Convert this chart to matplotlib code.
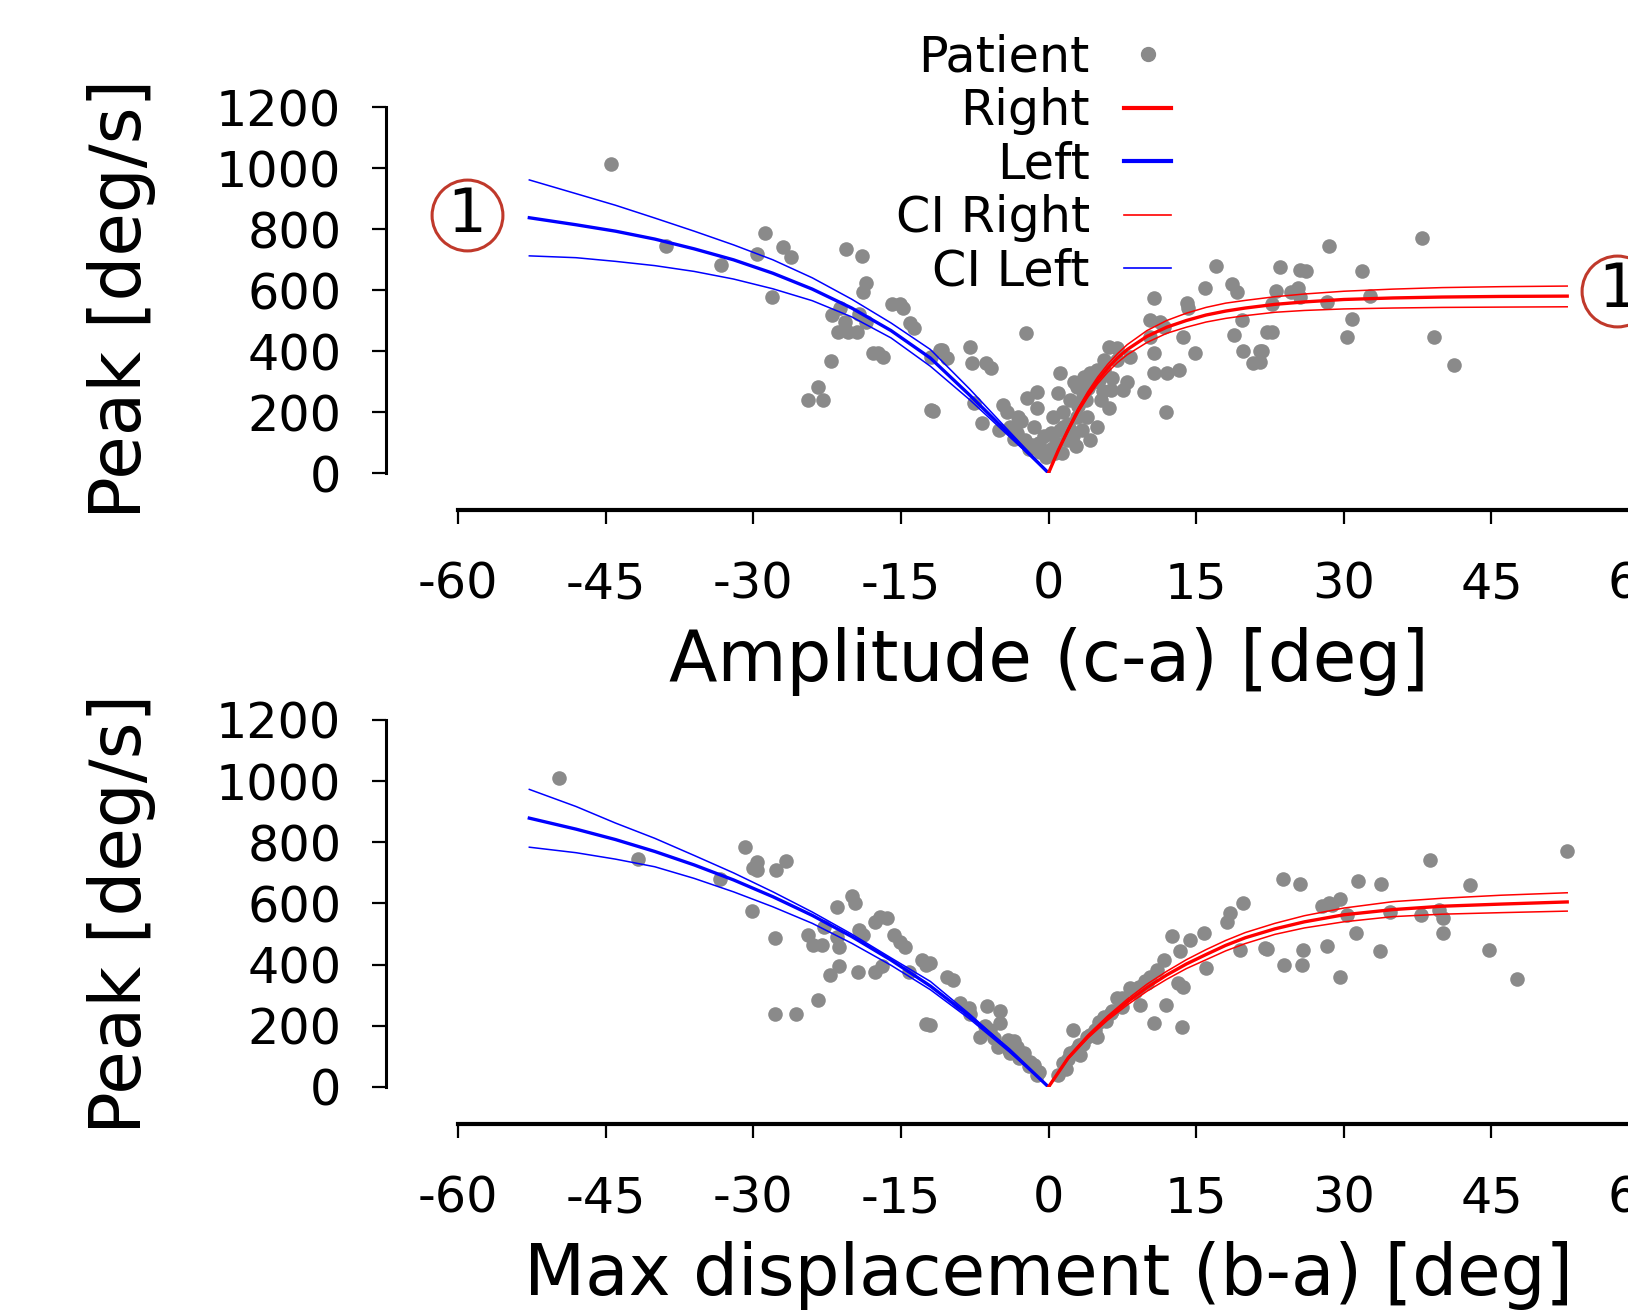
import matplotlib.pyplot as plt
from matplotlib.lines import Line2D

plt.rcParams['font.family'] = 'DejaVu Sans'
plt.rcParams['axes.unicode_minus'] = False

# ---------------- top panel: amplitude (c-a) ----------------
amp_x = [-44.5, -38.9, -33.3, -28.8, -29.6, -28.1, -27.0, -26.2, -20.6, -18.9,
         -18.5, -18.8, -15.9, -15.1, -14.8, -14.1, -13.7, -22.0, -21.2, -21.4,
         -20.4, -19.5, -19.3, -18.5, -20.7, -17.8, -16.8, -17.3, -22.1, -23.4,
         -24.4, -22.9, -11.9, -11.9, -11.0,
         -10.8, -10.3, -8.0, -7.8, -6.4, -5.8, -11.7, -7.6, -6.8, -4.6,
         -3.9, -3.1, -2.2, -1.2, -1.2, -2.3, -3.2, -2.4, -1.7, -0.9,
         -0.3, 0.5, 0.3, 1.2, 1.0, 1.5, 1.9, 1.4, 0.7, 2.2,
         2.9, 2.9, 3.4, 3.9, 4.2, 3.6, 4.2, 4.9, 5.6, 5.1,
         5.6, 6.1, 7.0, 6.3, 7.6, 6.1, 9.7, 10.7, 12.0, 13.3,
         11.9, 10.7, 10.3, 11.7, 10.7, 10.3, 11.3, 13.7, 14.9, 14.1,
         14.2, 15.9, 17.0, 18.6, 19.1, 18.8, 19.8, 20.8, 21.5, 19.7,
         22.2, 8.0, 2.2, 4.9, 5.3, 8.3, 7.0,
         0.8, 1.5, 2.0, 2.5, 3.0, 3.5, 4.0, 4.5, 2.6, 5.5,
         6.5, 3.8, 1.2, 2.8, 0.3, -0.5, -1.5, -2.8, -4.2, -5.0,
         -3.5, -1.0, -2.0,
         23.5, 25.5, 26.2, 28.5, 31.8, 37.9, 23.1, 24.6, 25.3, 25.6,
         22.7, 28.3, 32.7, 22.7, 21.7, 30.8, 30.3, 39.2, 41.2, 21.5]
amp_y = [1012, 744, 681, 786, 717, 578, 740, 709, 733, 711,
         624, 594, 553, 553, 540, 493, 474, 518, 540, 463,
         463, 463, 523, 496, 496, 392, 381, 392, 367, 283,
         239, 239, 207, 381, 403,
         403, 376, 414, 360, 360, 343, 204, 228, 163, 223,
         152, 185, 245, 267, 213, 460, 130, 108, 91, 70,
         54, 185, 130, 327, 261, 152, 108, 65, 65, 239,
         283, 185, 141, 185, 108, 316, 327, 338, 338, 305,
         371, 414, 409, 272, 272, 213, 267, 327, 327, 338,
         199, 392, 447, 480, 573, 502, 496, 447, 392, 556,
         540, 605, 679, 620, 595, 453, 401, 362, 401, 502,
         463, 299, 141, 152, 239, 381, 371,
         100, 200, 160, 120, 220, 250, 280, 300, 300, 270,
         310, 240, 140, 90, 80, 120, 150, 170, 200, 140,
         110, 100, 80,
         674, 666, 664, 744, 663, 769, 598, 594, 605, 578,
         554, 562, 580, 463, 400, 505, 445, 445, 354, 365]

# fitted curves
amp_left_x = [-52.75, -48, -44, -40, -36, -32, -28, -24, -20, -16, -12, -8, -4, 0]
amp_left = [837, 814, 793, 767, 735, 699, 655, 603, 541, 467, 377, 255, 128, 0]
amp_left_hi = [961, 916, 878, 836, 793, 748, 699, 640, 570, 492, 405, 275, 137, 0]
amp_left_lo = [712, 706, 694, 680, 661, 636, 604, 565, 512, 443, 350, 240, 120, 0]

amp_right_x = [0, 1, 2, 3, 4, 5, 6, 7, 8, 10, 12, 14, 16, 18, 20, 23, 26, 30,
               35, 40, 46, 52.7]
amp_right = [0, 75, 142, 205, 258, 304, 343, 377, 405, 448, 478, 500, 518, 531,
             541, 553, 561, 569, 574, 577, 579, 580]
amp_right_hi = [0, 77, 147, 212, 267, 315, 356, 391, 421, 467, 500, 524, 543,
                557, 566, 578, 587, 596, 603, 608, 611, 613]
amp_right_lo = [0, 73, 137, 198, 249, 293, 330, 362, 388, 428, 458, 478, 495,
                507, 516, 527, 533, 538, 541, 543, 544, 545]

# ---------------- bottom panel: max displacement (b-a) ----------------
disp_x = [-49.7, -41.7, -33.4, -30.8, -29.6, -30.0, -29.6, -27.7, -26.7, -30.1,
          -27.8, -27.8, -25.7, -23.4, -21.5, -20.0, -19.7, -24.4, -23.9, -23.0,
          -22.8, -21.5, -21.3, -19.3, -18.8, -17.6, -17.1, -16.4, -15.7, -15.1,
          -14.6, -21.3, -22.2, -19.4, -17.6, -16.9, -12.9, -12.4, -12.4, -14.2,
          -12.0, -10.3, -9.7, -12.0, -9.0, -8.1, -7.0, -6.2, -4.9, -4.9,
          -5.1, -5.9, -4.1, -3.2, -2.5, -1.9, -1.5, -3.9,
          2.5, 1.5, 2.2, 3.05, 3.9, 4.75, 5.1, 4.9, 5.6, 6.3,
          7.0, 7.5, 8.3, 9.2, 9.3, 10.3, 10.7, 11.7, 11.9, 13.2,
          13.7, 13.6, 13.4, 12.5, 14.4, 15.8, 16.0, 19.5, 18.1, 18.4,
          19.8, 22.0, 11.0, 10.0,
          -1.0, -2.0, -3.0, -4.0, -5.5, -6.5, -8.0, -3.5, -1.2,
          1.0, 2.0, 2.8, 3.5, 4.2, 5.8, 6.5, 7.5, 8.8, 9.8, 1.8, 3.2,
          23.8, 25.5, 31.4, 33.8, 38.8, 42.8, 52.7, 27.8, 28.5, 29.6,
          28.8, 30.3, 34.7, 37.8, 39.7, 40.1, 40.1, 31.2, 22.2, 25.9,
          28.3, 33.7, 23.9, 25.8, 29.6, 44.8, 47.6]
disp_y = [1011, 745, 680, 786, 737, 715, 710, 710, 739, 577,
          488, 238, 238, 284, 588, 625, 600, 496, 465, 465,
          524, 491, 458, 513, 497, 541, 557, 551, 497, 475,
          459, 394, 366, 377, 377, 394, 416, 399, 205, 377,
          404, 361, 350, 203, 274, 258, 165, 265, 247, 208,
          132, 187, 154, 132, 110, 83, 72, 110,
          187, 77, 110, 137, 165, 187, 214, 165, 230, 241,
          290, 263, 323, 328, 268, 361, 208, 415, 268, 339,
          328, 197, 443, 495, 480, 502, 388, 448, 541, 568,
          601, 453, 383, 339,
          50, 70, 95, 120, 160, 200, 240, 150, 40,
          40, 90, 120, 140, 170, 215, 250, 290, 310, 345, 60, 105,
          679, 664, 672, 664, 742, 662, 770, 592, 603, 613,
          595, 562, 573, 561, 578, 553, 505, 505, 451, 449,
          462, 444, 398, 398, 359, 447, 353]

disp_left_x = [-52.75, -48, -44, -40, -36, -32, -28, -24, -20, -16, -12, -8, -4, 0]
disp_left = [879, 843, 809, 770, 726, 677, 622, 561, 492, 415, 330, 231, 122, 0]
disp_left_hi = [973, 917, 863, 813, 757, 700, 638, 572, 500, 422, 345, 238, 123, 0]
disp_left_lo = [784, 766, 745, 720, 682, 638, 589, 535, 470, 398, 318, 222, 115, 0]

disp_right_x = [0, 2, 4, 6, 8, 10, 12, 14, 16, 18, 20, 23, 26, 30, 35, 40, 46, 52.7]
disp_right = [0, 95, 165, 225, 278, 325, 366, 402, 433, 463, 488, 517, 540, 563,
              580, 591, 598, 605]
disp_right_hi = [0, 98, 170, 232, 287, 336, 378, 416, 449, 479, 505, 535, 560,
                 585, 606, 617, 627, 635]
disp_right_lo = [0, 92, 160, 218, 268, 313, 352, 387, 416, 445, 469, 499, 520,
                 540, 557, 565, 570, 575]

xticks = list(range(-60, 61, 15))
yticks = list(range(0, 1201, 200))

dot_col = '#8a8a8a'
ring_col = '#c0392b'

fig = plt.figure(figsize=(16.28, 13.15), dpi=100)
ax1 = fig.add_axes([0.2813, 0.6403, 0.7255, 0.2783])
ax2 = fig.add_axes([0.2813, 0.1734, 0.7255, 0.2791])


def style(ax, xlabel, ylab_y):
    for s in ['top', 'right']:
        ax.spines[s].set_visible(False)
    ax.spines['left'].set_position(('outward', 52))
    ax.spines['bottom'].set_position(('outward', 26.5))
    ax.spines['left'].set_linewidth(2.2)
    ax.spines['bottom'].set_linewidth(3)
    ax.set_xlim(-60, 60)
    ax.set_ylim(0, 1200)
    ax.set_xticks(xticks)
    ax.set_yticks(yticks)
    ax.tick_params(labelsize=35.5, length=10, width=1.6)
    ax.tick_params(axis='x', pad=26.5)
    ax.tick_params(axis='y', pad=22)
    ax.set_xlabel(xlabel, fontsize=51, labelpad=13)
    ax.set_ylabel('Peak [deg/s]', fontsize=51)
    ax.yaxis.set_label_coords(-0.2557, ylab_y)


def draw(ax, px, py, lx, l, lhi, llo, rx, r, rhi, rlo):
    ax.scatter(px, py, s=110, color=dot_col, linewidths=0, zorder=2)
    ax.plot(lx, lhi, color='blue', lw=1.1, zorder=3)
    ax.plot(lx, llo, color='blue', lw=1.1, zorder=3)
    ax.plot(rx, rhi, color='red', lw=1.1, zorder=3)
    ax.plot(rx, rlo, color='red', lw=1.1, zorder=3)
    ax.plot(lx, l, color='blue', lw=2.4, zorder=4)
    ax.plot(rx, r, color='red', lw=2.4, zorder=4)


draw(ax1, amp_x, amp_y, amp_left_x, amp_left, amp_left_hi, amp_left_lo,
     amp_right_x, amp_right, amp_right_hi, amp_right_lo)
draw(ax2, disp_x, disp_y, disp_left_x, disp_left, disp_left_hi, disp_left_lo,
     disp_right_x, disp_right, disp_right_hi, disp_right_lo)
style(ax1, 'Amplitude (c-a) [deg]', 0.475)
style(ax2, 'Max displacement (b-a) [deg]', 0.471)

# circled markers on the top panel
for cx, cy in [(-59.1, 846), (57.8, 598)]:
    ax1.plot(cx, cy, marker='o', ms=51, mfc='white', mec=ring_col, mew=2.2,
             clip_on=False, zorder=5)
    ax1.text(cx, cy, '1', fontsize=44, ha='center', va='center', zorder=6,
             clip_on=False)

handles = [
    Line2D([], [], ls='none', marker='o', ms=10, color=dot_col),
    Line2D([], [], color='red', lw=3),
    Line2D([], [], color='blue', lw=3),
    Line2D([], [], color='red', lw=1.2),
    Line2D([], [], color='blue', lw=1.2),
]
labels = ['Patient', 'Right', 'Left', 'CI Right', 'CI Left']
fig.legend(handles, labels, loc='upper right', bbox_to_anchor=(0.7193, 0.9744),
           bbox_transform=fig.transFigure, frameon=False, fontsize=35.5,
           markerfirst=False, handlelength=0.95, handletextpad=0.7,
           labelspacing=0.11, borderpad=0, borderaxespad=0, numpoints=1)

fig.savefig('out.png', dpi=100)
